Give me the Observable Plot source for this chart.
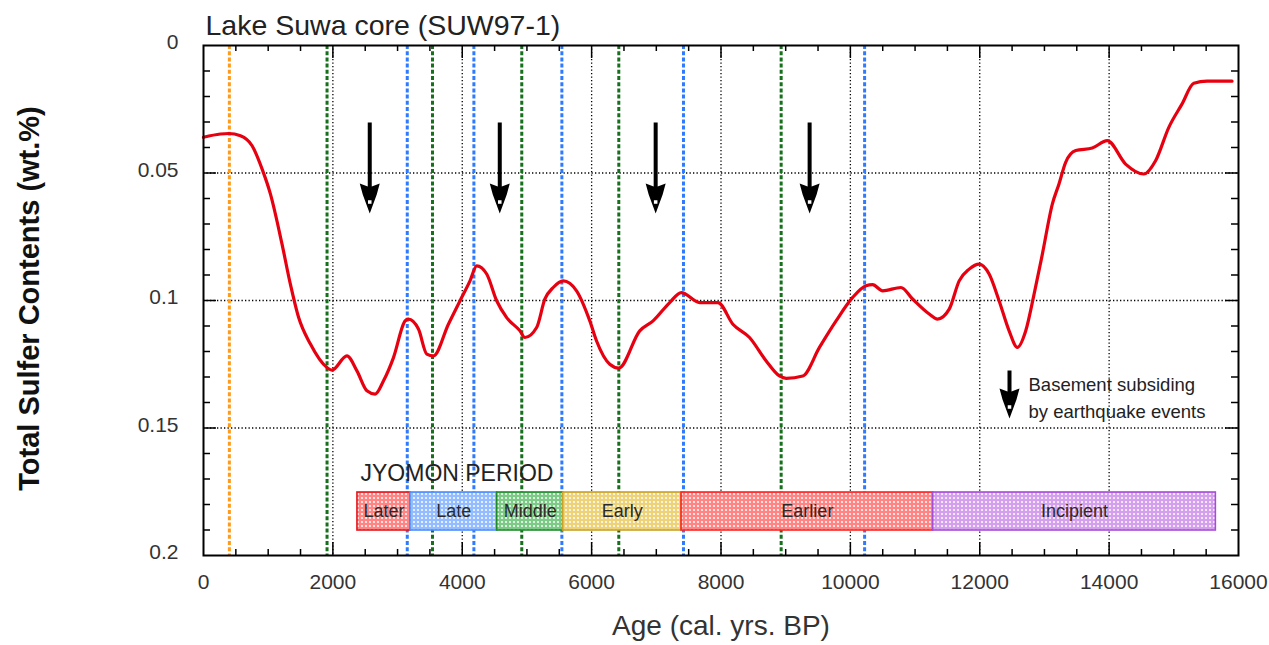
<!DOCTYPE html>
<html>
<head>
<meta charset="utf-8">
<script src="https://cdn.jsdelivr.net/npm/d3@7"></script>
<script src="https://cdn.jsdelivr.net/npm/@observablehq/plot@0.6"></script>
<style>
  html, body { margin: 0; padding: 0; background: #fff; }
</style>
</head>
<body>
<div id="chart"></div>
<script>
// ---- data ----
const ages = [0, 262, 391, 571, 751, 905, 1034, 1214, 1343, 1471, 1651, 1909, 1986, 2217, 2372, 2526, 2654, 2783, 2937, 3117, 3168, 3323, 3452, 3555, 3786, 3966, 4120, 4224, 4378, 4532, 4687, 4892, 4969, 5150, 5278, 5406, 5561, 5767, 5972, 6075, 6281, 6420, 6744, 6950, 7207, 7387, 7670, 7953, 8184, 8441, 8699, 8904, 9008, 9264, 9522, 9779, 10036, 10242, 10344, 10499, 10782, 10962, 11219, 11347, 11528, 11682, 11836, 11991, 12145, 12299, 12454, 12582, 12711, 12840, 12968, 13122, 13225, 13328, 13483, 13740, 13971, 14255, 14537, 14718, 14923, 15128, 15309, 15514, 15900];
const sulfur = [0.036, 0.0347, 0.0345, 0.0354, 0.0393, 0.0484, 0.0582, 0.0779, 0.0936, 0.1067, 0.117, 0.1263, 0.1273, 0.1217, 0.1276, 0.1354, 0.1367, 0.1315, 0.1224, 0.108, 0.1073, 0.1112, 0.121, 0.1217, 0.1093, 0.1001, 0.0923, 0.0864, 0.0896, 0.1001, 0.1067, 0.1119, 0.1145, 0.1106, 0.0994, 0.0949, 0.0923, 0.0962, 0.108, 0.1158, 0.125, 0.1265, 0.1119, 0.108, 0.1008, 0.0969, 0.1008, 0.1008, 0.1093, 0.1145, 0.1237, 0.1296, 0.1305, 0.1296, 0.1184, 0.108, 0.0988, 0.0942, 0.0938, 0.0962, 0.0949, 0.0994, 0.1053, 0.1073, 0.1034, 0.0923, 0.0877, 0.0857, 0.0896, 0.1001, 0.1119, 0.1184, 0.1119, 0.0975, 0.0818, 0.0622, 0.0543, 0.0458, 0.0412, 0.0402, 0.0373, 0.0465, 0.0504, 0.0452, 0.0321, 0.0229, 0.0148, 0.014, 0.014];

const orangeLines = [400];
const greenLines = [1910, 3540, 4920, 6420, 8930];
const blueLines = [3150, 4180, 5540, 7420, 10220];
const earthquakeArrows = [2570, 4580, 6990, 9370];

const periodNames = ["Later", "Late", "Middle", "Early", "Earlier", "Incipient"];
const periodBounds = [2380, 3200, 4540, 5560, 7390, 11280, 15650];

const xTickLabels = [0, 2000, 4000, 6000, 8000, 10000, 12000, 14000, 16000];
const yTickLabels = [0, 0.05, 0.1, 0.15, 0.2];

const title = "Lake Suwa core (SUW97-1)";
const xLabel = "Age (cal. yrs. BP)";
const yLabel = "Total Sulfer Contents (wt.%)";
const groupLabel = "JYOMON PERIOD";
const legendLabel = "Basement subsiding\nby earthquake events";

// ---- derived tables ----
const curve = ages.map((a, i) => ({age: a, s: sulfur[i]}));
const periods = periodNames.map((n, i) => ({name: n, start: periodBounds[i], end: periodBounds[i + 1], i}));
const periodStroke = ["#e3141c", "#4a8cff", "#1f8a2a", "#c9a227", "#ff2222", "#a64dd6"];
const periodTint = ["#ff5a5a", "#6fa6ff", "#4fb85c", "#e6c24a", "#ff5a5a", "#c57ee6"];

const W = 1269, H = 645;
const mL = 203, mR = 31, mT = 45, mB = 90;
const fw = W - mL - mR, fh = H - mT - mB;

const gridX = xTickLabels.filter(d => d > 0 && d < 16000);
const gridY = yTickLabels.filter(d => d > 0 && d < 0.2);
const minorX = d3.range(0, 16001, 500).filter(d => d % 2000 !== 0);
const minorY = d3.range(1, 20).filter(d => d % 5 !== 0).map(d => d / 100);

function arrowSymbol(len) {
  return {
    draw(ctx) {
      ctx.moveTo(-2, -len);
      ctx.lineTo(2, -len);
      ctx.lineTo(2, -12);
      ctx.lineTo(10, -15);
      ctx.lineTo(7, -4);
      ctx.lineTo(0, 15);
      ctx.lineTo(-7, -4);
      ctx.lineTo(-10, -15);
      ctx.lineTo(-2, -12);
      ctx.closePath();
    }
  };
}

const dash = "4,2.2";
const dotted = "1.3,2.2";

const svg = Plot.plot({
  width: W, height: H,
  marginLeft: mL, marginRight: mR, marginTop: mT, marginBottom: mB,
  style: {fontFamily: "'Liberation Sans', Arial, sans-serif", background: "#fff", color: "#2a2a2a"},
  x: {domain: [0, 16000]},
  y: {domain: [0, 0.2], reverse: true},
  color: {type: "identity"},
  marks: [
    // grid
    Plot.ruleX(gridX, {stroke: "#000", strokeWidth: 1.3, strokeDasharray: dotted}),
    Plot.ruleY(gridY, {stroke: "#000", strokeWidth: 1.3, strokeDasharray: dotted}),
    // event lines
    Plot.ruleX(orangeLines, {stroke: "#ff9a1a", strokeWidth: 3, strokeDasharray: dash}),
    Plot.ruleX(greenLines, {stroke: "#16701c", strokeWidth: 3, strokeDasharray: dash}),
    Plot.ruleX(blueLines, {stroke: "#2f7bff", strokeWidth: 3, strokeDasharray: dash}),
    // Jyomon periods
    Plot.rect(periods, {x1: "start", x2: "end", insetTop: 447, insetBottom: 25,
      fill: d => `url(#pat-${d.i})`, stroke: d => periodStroke[d.i], strokeWidth: 1.6}),
    Plot.text(periods, {x: d => (d.start + d.end) / 2, text: "name", frameAnchor: "bottom", lineAnchor: "middle",
      dy: -44, fontSize: 18, fill: "#2a2a2a"}),
    Plot.text([groupLabel], {text: d => d, frameAnchor: "bottom-left", lineAnchor: "middle", dx: 157, dy: -82,
      textAnchor: "start", fontSize: 23, fill: "#222"}),
    // curve
    Plot.line(curve, {x: "age", y: "s", curve: "monotone-x", stroke: "#e60010", strokeWidth: 3.2, strokeLinejoin: "round"}),
    // earthquake arrows
    Plot.dot(earthquakeArrows, {x: d => d, frameAnchor: "top", dy: 153, symbol: arrowSymbol(76),
      fill: "#000", stroke: "none", r: 5}),
    Plot.dot(earthquakeArrows, {x: d => d, frameAnchor: "top", dy: 156.5, symbol: "square",
      fill: "#fff", stroke: "none", r: 2}),
    // legend arrow + text
    Plot.dot([legendLabel], {frameAnchor: "bottom-right", dx: -229, dy: -152, symbol: arrowSymbol(33),
      fill: "#000", stroke: "none", r: 5}),
    Plot.dot([legendLabel], {frameAnchor: "bottom-right", dx: -229, dy: -148.5, symbol: "square",
      fill: "#fff", stroke: "none", r: 2}),
    Plot.text([legendLabel], {text: d => d, frameAnchor: "bottom-right", lineAnchor: "middle", dx: -210, dy: -159.5,
      textAnchor: "start", fontSize: 18.5, lineHeight: 1.45, fill: "#222"}),
    // frame & ticks
    Plot.frame({stroke: "#000", strokeWidth: 2}),
    Plot.ruleX(minorX, {stroke: "#000", strokeWidth: 1.5, insetTop: fh - 6}),
    Plot.ruleX(minorX, {stroke: "#000", strokeWidth: 1.5, insetBottom: fh - 6}),
    Plot.ruleX(gridX, {stroke: "#000", strokeWidth: 1.5, insetTop: fh - 13}),
    Plot.ruleX(gridX, {stroke: "#000", strokeWidth: 1.5, insetBottom: fh - 13}),
    Plot.ruleY(minorY, {stroke: "#000", strokeWidth: 1.5, insetRight: fw - 7}),
    Plot.ruleY(minorY, {stroke: "#000", strokeWidth: 1.5, insetLeft: fw - 7}),
    Plot.ruleY(gridY, {stroke: "#000", strokeWidth: 1.5, insetRight: fw - 13}),
    Plot.ruleY(gridY, {stroke: "#000", strokeWidth: 1.5, insetLeft: fw - 13}),
    // axes
    Plot.axisX(xTickLabels, {anchor: "bottom", tickSize: 0, tickPadding: 19, fontSize: 21,
      tickFormat: d => String(d), label: null, fill: "#333"}),
    Plot.axisY(yTickLabels, {anchor: "left", tickSize: 0, tickPadding: 25, fontSize: 21, dy: -3,
      tickFormat: d => String(d), label: null, fill: "#333"}),
    // titles
    Plot.text([title], {text: d => d, frameAnchor: "top-left", lineAnchor: "middle", dx: 2, dy: -20,
      textAnchor: "start", fontSize: 28.5, fill: "#222"}),
    Plot.text([xLabel], {text: d => d, frameAnchor: "bottom", lineAnchor: "middle", dy: 71, fontSize: 28, fill: "#333"}),
    Plot.text([yLabel], {text: d => d, frameAnchor: "left", lineAnchor: "middle", textAnchor: "middle",
      dx: -174, dy: -2, rotate: -90, fontSize: 29, fontWeight: "bold", fill: "#111"})
  ]
});

// dotted fill patterns for the period boxes
const defs = d3.select(svg).insert("defs", ":first-child");
periodTint.forEach((c, i) => {
  const p = defs.append("pattern").attr("id", `pat-${i}`).attr("patternUnits", "userSpaceOnUse")
    .attr("width", 4).attr("height", 4);
  p.append("rect").attr("width", 4).attr("height", 4).attr("fill", "#fff");
  p.append("rect").attr("width", 4).attr("height", 4).attr("fill", c).attr("fill-opacity", 0.75);
  p.append("circle").attr("cx", 2).attr("cy", 2).attr("r", 1).attr("fill", "#fff");
});

document.getElementById("chart").appendChild(svg);
</script>
</body>
</html>
